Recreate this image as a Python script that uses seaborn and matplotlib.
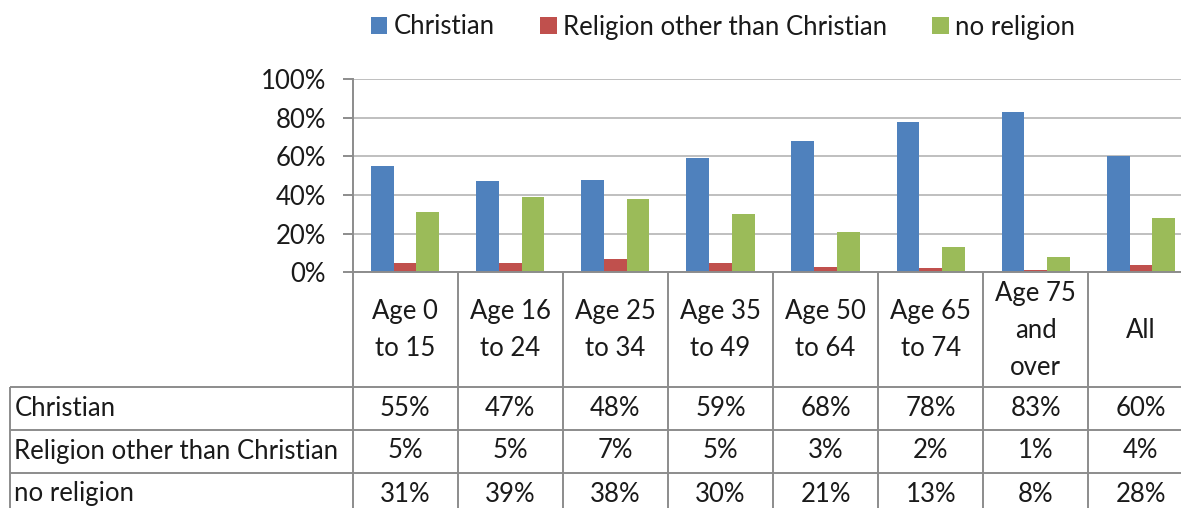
import matplotlib
matplotlib.use("Agg")
import matplotlib.pyplot as plt
import matplotlib.transforms as mtransforms
from matplotlib.patches import Patch
from matplotlib.ticker import PercentFormatter
import seaborn as sns
import pandas as pd

# ---- data ----
categories = ["Age 0\nto 15", "Age 16\nto 24", "Age 25\nto 34", "Age 35\nto 49",
              "Age 50\nto 64", "Age 65\nto 74", "Age 75\nand\nover", "All"]
series_names = ["Christian", "Religion other than Christian", "no religion"]
christian = [55, 47, 48, 59, 68, 78, 83, 60]
other_religion = [5, 5, 7, 5, 3, 2, 1, 4]
no_religion = [31, 39, 38, 30, 21, 13, 8, 28]
y_ticks = [0, 20, 40, 60, 80, 100]

colors = ["#4F81BD", "#C0504D", "#9BBB59"]

rows = []
for name, vals in zip(series_names, [christian, other_religion, no_religion]):
    for c, v in zip(categories, vals):
        rows.append({"age": c, "religion": name, "value": v})
df = pd.DataFrame(rows)

sns.set_style("white")
plt.rcParams["font.family"] = ["Lato", "DejaVu Sans"]
FS = 18.5
TXT = "#1a1a1a"

W, H = 1181, 508
fig = plt.figure(figsize=(W / 100, H / 100), dpi=100)

x_left, x_right = 352.5, 1193.5
y_top, y_base = 79.0, 272.3
ax = fig.add_axes([x_left / W, 1 - y_base / H, (x_right - x_left) / W, (y_base - y_top) / H])

sns.barplot(data=df, x="age", y="value", hue="religion", hue_order=series_names,
            order=categories, palette=colors, saturation=1, width=0.65,
            ax=ax, legend=False, edgecolor="none")

ax.set_xlim(-0.5, len(categories) - 0.5)
ax.set_ylim(0, 100)
ax.set_yticks(y_ticks)
ax.yaxis.set_major_formatter(PercentFormatter(decimals=0))
ax.set_xticks([])
ax.set_xlabel("")
ax.set_ylabel("")
ax.grid(axis="y", color="#BFBFBF", linewidth=1.4)
ax.set_axisbelow(True)
for s in ["top", "right"]:
    ax.spines[s].set_visible(False)
for s in ["left", "bottom"]:
    ax.spines[s].set_color("#8C8C8C")
    ax.spines[s].set_linewidth(1.4)
ax.tick_params(axis="y", left=True, length=7, width=1.4, color="#8C8C8C",
               pad=12, labelsize=FS, labelcolor=TXT)

# ---- overlay for the data table (pixel coordinates) ----
ov = fig.add_axes([0, 0, 1, 1])
ov.set_xlim(0, W)
ov.set_ylim(H, 0)
ov.axis("off")
ov.patch.set_visible(False)
blend = mtransforms.blended_transform_factory(ax.transData, ov.transData)

LC = "#8C8C8C"
LW = 1.4
header_bottom = 386.5
row_lines = [386.5, 429.5, 472.5]
row_centers = [408, 451, 494]
table_left = 9.5

# vertical column lines
for i in range(len(categories) + 1):
    ov.plot([i - 0.5, i - 0.5], [y_base, H], color=LC, lw=LW, transform=blend,
            clip_on=False, solid_capstyle="butt")
# left border of row-label column
ov.plot([table_left, table_left], [row_lines[0], H], color=LC, lw=LW, solid_capstyle="butt")
# horizontal row lines
for yl in row_lines:
    ov.plot([table_left, W], [yl, yl], color=LC, lw=LW, solid_capstyle="butt")

# header texts
for i, c in enumerate(categories):
    ov.text(i, (y_base + header_bottom) / 2 + 1, c, transform=blend, ha="center",
            va="center", fontsize=FS, color=TXT, linespacing=1.6, multialignment="center")

# row labels and values
for name, vals, yc in zip(series_names, [christian, other_religion, no_religion], row_centers):
    ov.text(table_left + 5, yc, name, ha="left", va="center", fontsize=FS, color=TXT)
    for i, v in enumerate(vals):
        ov.text(i, yc, f"{v}%", transform=blend, ha="center", va="center",
                fontsize=FS, color=TXT)

# ---- legend ----
handles = [Patch(facecolor=c, edgecolor="none", label=n) for c, n in zip(colors, series_names)]
fig.legend(handles=handles, loc="center", bbox_to_anchor=(((369 + 1077) / 2) / W, 1 - 27 / H),
           ncol=3, frameon=False, fontsize=FS, handlelength=0.65, handleheight=0.65,
           handletextpad=0.25, columnspacing=1.75, labelcolor=TXT)

fig.savefig("out.png", dpi=100)
